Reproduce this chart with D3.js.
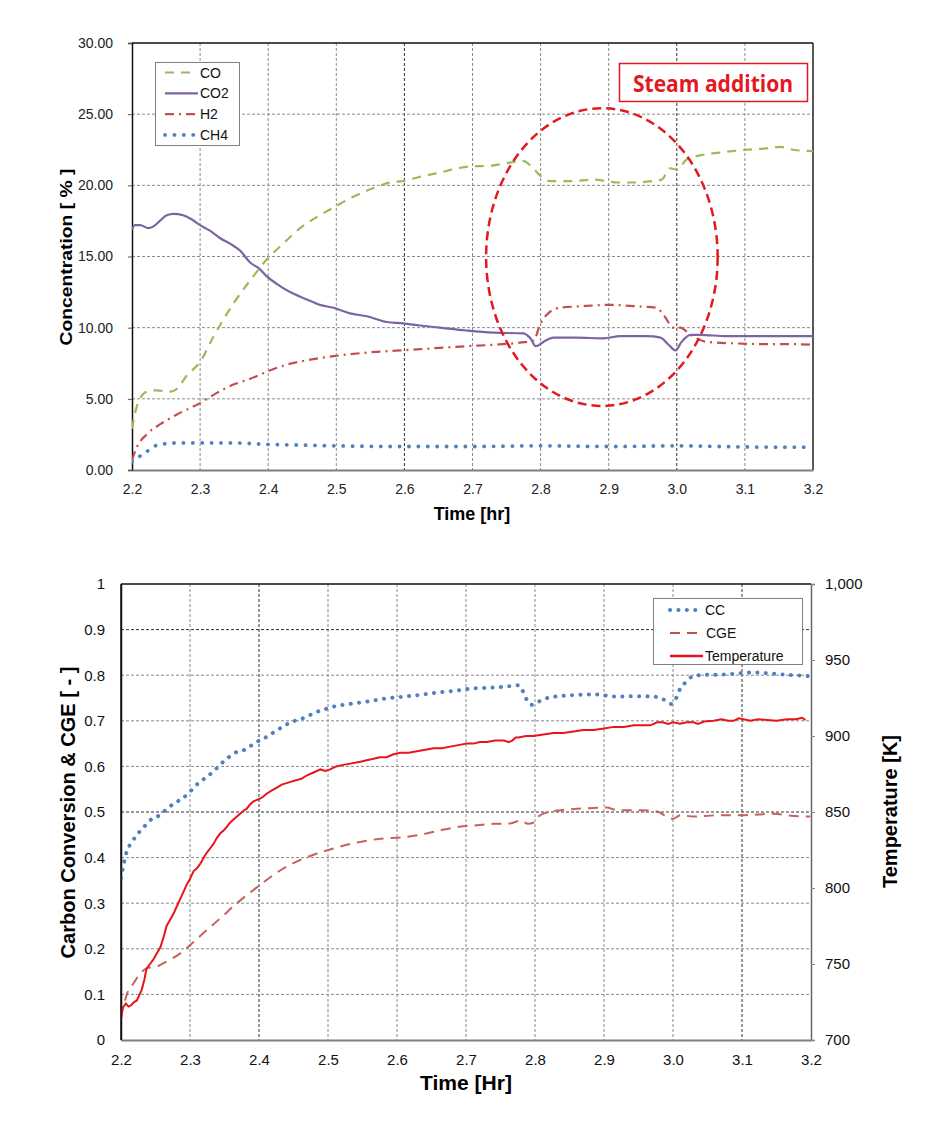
<!DOCTYPE html>
<html><head><meta charset="utf-8">
<script src="https://cdn.jsdelivr.net/npm/d3@7/dist/d3.min.js"></script>
<style>
html,body{margin:0;padding:0;background:#fff;}
svg{display:block;font-family:"Liberation Sans",Arial,sans-serif;}
</style></head>
<body>
<svg id="chart" width="925" height="1131"></svg>
<script>
// ---------- Top chart data ----------
const topXTicks = [2.2,2.3,2.4,2.5,2.6,2.7,2.8,2.9,3.0,3.1,3.2];
const topXTickLabels = ["2.2","2.3","2.4","2.5","2.6","2.7","2.8","2.9","3.0","3.1","3.2"];
const topYTicks = [0,5,10,15,20,25,30];
const topYTickLabels = ["0.00","5.00","10.00","15.00","20.00","25.00","30.00"];

const coT = [2.2,2.207,2.2215,2.236,2.256,2.266,2.28,2.3,2.32,2.349,2.378,2.398,2.422,2.447,2.476,2.498,2.525,2.554,2.579,2.598,2.623,2.652,2.691,2.731,2.755,2.775,2.787,2.799,2.814,2.843,2.878,2.897,2.912,2.941,2.965,2.978,2.99,3.0,3.014,3.034,3.063,3.103,3.132,3.152,3.171,3.2];
const coV = [2.9,4.45,5.5,5.6,5.5,5.7,6.6,7.6,9.4,11.7,13.6,14.8,15.9,17.0,17.9,18.5,19.2,19.8,20.2,20.3,20.6,20.9,21.3,21.4,21.6,21.7,21.3,20.7,20.3,20.3,20.4,20.3,20.2,20.2,20.3,20.4,21.2,21.1,21.8,22.1,22.3,22.5,22.6,22.7,22.5,22.4];

const co2T = [2.2,2.204,2.212,2.224,2.231,2.241,2.251,2.261,2.275,2.288,2.3,2.315,2.329,2.344,2.359,2.373,2.388,2.398,2.412,2.432,2.456,2.476,2.496,2.52,2.545,2.574,2.598,2.623,2.652,2.691,2.731,2.775,2.785,2.793,2.804,2.819,2.853,2.892,2.917,2.956,2.976,2.988,2.998,3.007,3.02,3.034,3.073,3.122,3.171,3.2];
const co2V = [16.9,17.2,17.2,17.0,17.1,17.5,17.9,18.0,17.9,17.6,17.2,16.8,16.3,15.9,15.4,14.6,14.1,13.6,13.1,12.5,12.0,11.6,11.4,11.0,10.8,10.4,10.3,10.15,10.0,9.8,9.65,9.6,9.25,8.7,9.0,9.3,9.3,9.25,9.4,9.4,9.3,8.8,8.4,9.0,9.5,9.5,9.4,9.4,9.4,9.4];

const h2T = [2.2,2.207,2.2215,2.241,2.266,2.3,2.324,2.349,2.373,2.398,2.427,2.456,2.496,2.545,2.594,2.642,2.691,2.731,2.77,2.79,2.799,2.809,2.828,2.858,2.902,2.941,2.97,2.982,2.995,3.005,3.02,3.044,3.083,3.122,3.161,3.2];
const h2V = [0.7,1.6,2.5,3.2,3.9,4.7,5.4,6.0,6.4,6.9,7.4,7.7,8.0,8.25,8.4,8.55,8.7,8.8,8.95,9.1,10.2,10.9,11.4,11.5,11.6,11.5,11.4,10.8,10.0,10.0,9.5,9.0,8.9,8.85,8.85,8.8];

const ch4T = [2.2,2.214,2.225,2.237,2.266,2.305,2.349,2.398,2.447,2.496,2.594,2.691,2.8,2.9,3.0,3.1,3.2];
const ch4V = [0.6,1.05,1.4,1.75,1.9,1.9,1.9,1.8,1.75,1.7,1.65,1.65,1.7,1.65,1.7,1.62,1.6];

const topSeriesNames = ["CO","CO2","H2","CH4"];
const steamLabel = "Steam addition";
const steamEllipse = [2.89, 14.96, 0.17, 10.46]; // centre time, centre %, half-width hr, half-height %

// ---------- Bottom chart data ----------
const botXTicks = [2.2,2.3,2.4,2.5,2.6,2.7,2.8,2.9,3.0,3.1,3.2];
const botXTickLabels = ["2.2","2.3","2.4","2.5","2.6","2.7","2.8","2.9","3.0","3.1","3.2"];
const botYTicks = [0,0.1,0.2,0.3,0.4,0.5,0.6,0.7,0.8,0.9,1];
const botYTickLabels = ["0","0.1","0.2","0.3","0.4","0.5","0.6","0.7","0.8","0.9","1"];
const botY2Ticks = [700,750,800,850,900,950,1000];
const botY2TickLabels = ["700","750","800","850","900","950","1,000"];

const ccT = [2.2,2.204,2.207,2.218,2.227,2.235,2.244,2.256,2.266,2.276,2.287,2.298,2.307,2.317,2.327,2.336,2.346,2.356,2.368,2.38,2.39,2.402,2.414,2.424,2.435,2.446,2.457,2.469,2.481,2.493,2.505,2.532,2.556,2.58,2.609,2.634,2.658,2.684,2.711,2.74,2.764,2.776,2.782,2.787,2.795,2.808,2.82,2.837,2.861,2.885,2.899,2.919,2.948,2.972,2.986,2.997,3.005,3.01,3.018,3.028,3.04,3.078,3.117,3.141,3.165,3.199];
const ccV = [0.355,0.387,0.406,0.439,0.457,0.47,0.484,0.493,0.506,0.518,0.528,0.541,0.556,0.569,0.58,0.592,0.607,0.62,0.632,0.637,0.647,0.658,0.667,0.678,0.687,0.697,0.702,0.709,0.718,0.724,0.73,0.737,0.742,0.748,0.753,0.757,0.762,0.766,0.771,0.773,0.776,0.778,0.766,0.749,0.735,0.744,0.751,0.754,0.757,0.758,0.756,0.753,0.754,0.753,0.747,0.737,0.751,0.769,0.784,0.797,0.8,0.802,0.806,0.804,0.801,0.798];

const cgeT = [2.2,2.209,2.218,2.228,2.237,2.252,2.266,2.286,2.3,2.319,2.344,2.368,2.392,2.411,2.435,2.46,2.484,2.508,2.532,2.556,2.58,2.605,2.634,2.663,2.692,2.716,2.74,2.764,2.779,2.79,2.798,2.805,2.817,2.837,2.861,2.885,2.904,2.919,2.953,2.977,2.991,3.0,3.011,3.03,3.068,3.102,3.146,3.175,3.199];
const cgeV = [0.05,0.102,0.124,0.146,0.157,0.161,0.172,0.19,0.208,0.234,0.267,0.3,0.329,0.351,0.376,0.395,0.409,0.42,0.43,0.437,0.442,0.444,0.45,0.46,0.468,0.471,0.474,0.475,0.481,0.474,0.477,0.49,0.499,0.504,0.507,0.509,0.51,0.504,0.504,0.501,0.49,0.485,0.493,0.49,0.493,0.493,0.496,0.491,0.49];

const tempT = [2.2,2.202,2.207,2.211,2.215,2.219,2.223,2.226,2.23,2.234,2.237,2.242,2.247,2.252,2.257,2.262,2.266,2.271,2.276,2.281,2.286,2.291,2.295,2.3,2.305,2.31,2.315,2.32,2.324,2.329,2.334,2.339,2.344,2.349,2.353,2.358,2.363,2.368,2.373,2.378,2.382,2.387,2.392,2.397,2.402,2.406,2.411,2.418,2.426,2.433,2.44,2.447,2.455,2.462,2.469,2.479,2.489,2.496,2.503,2.512,2.522,2.534,2.547,2.556,2.566,2.575,2.585,2.595,2.605,2.617,2.629,2.641,2.653,2.665,2.677,2.689,2.701,2.711,2.72,2.73,2.742,2.755,2.762,2.767,2.772,2.776,2.787,2.798,2.812,2.827,2.841,2.856,2.87,2.885,2.9,2.914,2.929,2.943,2.955,2.967,2.972,2.977,2.985,2.993,3.0,3.01,3.02,3.03,3.036,3.045,3.059,3.07,3.08,3.088,3.095,3.102,3.112,3.124,3.136,3.15,3.165,3.178,3.187,3.192,3.199];
const tempV = [713,721,724,722,723,725,726,729,733,740,747,750,753,757,761,768,775,779,783,788,793,798,802,806,811,813,816,820,823,826,829,833,836,838,840,843,845,847,849,851,852,855,857,858,859,860,862,864,866,868,869,870,871,872,874,876,878,877,878,880,881,882,883,884,885,886,886,888,889,889,890,891,892,892,893,894,895,895,896,896,897,897,896,897,899,899,900,900,901,902,902,903,904,904,905,906,906,907,907,907,908,909,909,908,909,908,909,909,908,909.5,910,911,910,910,911.6,911,910,911,910.5,910,911,911,912,910.5];

const botSeriesNames = ["CC","CGE","Temperature"];

// ---------- colours ----------
const C_CO = "#9bbb59", C_CO2 = "#7b64a0", C_H2 = "#c0504d", C_CH4 = "#4f81bd";
const C_CC = "#4f81bd", C_CGE = "#c0504d", C_TEMP = "#e8141c", C_STEAM = "#e3191f";

const svg = d3.select("#chart");

function zip(t, v){ return t.map((x,i)=>[x, v[i]]); }

function drawFrame(g, x, y, L, R, T, B, xTicks, yTicks, darkX, darkY){
  g.append("g").selectAll("line.vx").data(xTicks.slice(1, -1)).join("line")
    .attr("x1", d=>x(d)).attr("x2", d=>x(d)).attr("y1", T).attr("y2", B)
    .attr("stroke", d=>darkX.includes(d)?"#333":"#8a8a8a").attr("stroke-width",1)
    .attr("stroke-dasharray","3,2");
  g.append("g").selectAll("line.hy").data(yTicks.slice(1, -1)).join("line")
    .attr("x1", L).attr("x2", R).attr("y1", d=>y(d)).attr("y2", d=>y(d))
    .attr("stroke", d=>darkY.includes(d)?"#333":"#8a8a8a").attr("stroke-width",1)
    .attr("stroke-dasharray","3,2");
}

// ================= TOP CHART =================
{
  const L=132, R=813, T=43, B=470;
  const x = d3.scaleLinear().domain([2.2,3.2]).range([L,R]);
  const y = d3.scaleLinear().domain([0,30]).range([B,T]);
  const g = svg.append("g");
  drawFrame(g, x, y, L, R, T, B, topXTicks, topYTicks, [2.6,3.0], []);

  g.append("line").attr("x1",L).attr("x2",R).attr("y1",T).attr("y2",T).attr("stroke","#111").attr("stroke-width",1.5);
  g.append("line").attr("x1",R).attr("x2",R).attr("y1",T).attr("y2",B).attr("stroke","#222").attr("stroke-width",1.5);

  const yAxis = d3.axisLeft(y).tickValues(topYTicks).tickFormat((d,i)=>topYTickLabels[i]).tickSize(4).tickPadding(15);
  const ya = g.append("g").attr("transform",`translate(${L},0)`).call(yAxis);
  ya.select(".domain").attr("stroke","#111").attr("stroke-width",1.5);
  ya.selectAll(".tick line").attr("stroke","#555");
  ya.selectAll("text").attr("font-size",14).attr("fill","#222").attr("font-family","Liberation Sans, Arial");

  const xAxis = d3.axisBottom(x).tickValues(topXTicks).tickFormat((d,i)=>topXTickLabels[i]).tickSize(0).tickPadding(14);
  const xa = g.append("g").attr("transform",`translate(0,${B})`).call(xAxis);
  xa.select(".domain").attr("stroke","#7f7f7f").attr("stroke-width",2.2);
  xa.selectAll("text").attr("font-size",14).attr("fill","#222").attr("font-family","Liberation Sans, Arial");

  g.append("text").attr("x",472).attr("y",520).attr("text-anchor","middle")
    .attr("font-size",18).attr("font-weight","bold").attr("fill","#000").text("Time [hr]");
  g.append("text").attr("transform","translate(72,257) rotate(-90)").attr("text-anchor","middle")
    .attr("font-size",16).attr("font-weight","bold").attr("fill","#000")
    .attr("textLength",177).attr("lengthAdjust","spacingAndGlyphs").text("Concentration [ % ]");

  const line = d3.line().x(d=>x(d[0])).y(d=>y(d[1])).curve(d3.curveMonotoneX);
  g.append("clipPath").attr("id","clipTop").append("rect").attr("x",L).attr("y",T).attr("width",R-L).attr("height",B-T);
  const pg = g.append("g").attr("clip-path","url(#clipTop)");

  pg.append("path").attr("d", line(zip(h2T,h2V))).attr("fill","none").attr("stroke",C_H2)
    .attr("stroke-width",2.2).attr("stroke-dasharray","9,5,2,5");
  pg.append("path").attr("d", line(zip(coT,coV))).attr("fill","none").attr("stroke",C_CO)
    .attr("stroke-width",2.2).attr("stroke-dasharray","9,7");
  pg.append("path").attr("d", line(zip(co2T,co2V))).attr("fill","none").attr("stroke",C_CO2)
    .attr("stroke-width",2.2);
  pg.append("path").attr("d", line(zip(ch4T,ch4V))).attr("fill","none").attr("stroke",C_CH4)
    .attr("stroke-width",3.8).attr("stroke-linecap","round").attr("stroke-dasharray","0.1,9.3");

  const [ecx, ecy, erx, ery] = steamEllipse;
  g.append("ellipse").attr("cx", x(ecx)).attr("cy", y(ecy))
    .attr("rx", x(2.2+erx)-x(2.2)).attr("ry", y(0)-y(ery))
    .attr("fill","none").attr("stroke",C_STEAM).attr("stroke-width",2.5).attr("stroke-dasharray","9,5");

  g.append("rect").attr("x",619.5).attr("y",63.5).attr("width",188).attr("height",38)
    .attr("fill","#fff").attr("stroke",C_STEAM).attr("stroke-width",1.5);
  g.append("text").attr("x",633).attr("y",92).attr("font-size",24).attr("font-weight","bold")
    .attr("font-family","Open Sans, Noto Sans, sans-serif").attr("fill",C_STEAM)
    .attr("textLength",160).attr("lengthAdjust","spacingAndGlyphs").text(steamLabel);

  const lg = g.append("g");
  lg.append("rect").attr("x",155.5).attr("y",62.5).attr("width",84).attr("height",83)
    .attr("fill","#fff").attr("stroke","#7f7f7f").attr("stroke-width",1);
  const legendStyles = [
    {c:C_CO, w:2.2, da:"9,7", cap:"butt", x1:165, x2:191},
    {c:C_CO2, w:2.2, da:null, cap:"butt", x1:165, x2:198},
    {c:C_H2, w:2.2, da:"9,5,2,5", cap:"butt", x1:165, x2:198},
    {c:C_CH4, w:3.8, da:"0.1,9.3", cap:"round", x1:165, x2:195}
  ];
  topSeriesNames.forEach((name,i)=>{
    const yb = 77.5 + i*20.8;
    const s = legendStyles[i];
    const ln = lg.append("line").attr("x1",s.x1).attr("x2",s.x2).attr("y1",yb-5).attr("y2",yb-5)
      .attr("stroke",s.c).attr("stroke-width",s.w).attr("stroke-linecap",s.cap);
    if (s.da) ln.attr("stroke-dasharray", s.da);
    lg.append("text").attr("x",200).attr("y",yb).attr("font-size",14).attr("fill","#111").text(name);
  });
}

// ================= BOTTOM CHART =================
{
  const L=121, R=811, T=584, B=1040;
  const x = d3.scaleLinear().domain([2.2,3.2]).range([L,R]);
  const y = d3.scaleLinear().domain([0,1]).range([B,T]);
  const y2 = d3.scaleLinear().domain([700,1000]).range([B,T]);
  const g = svg.append("g");
  drawFrame(g, x, y, L, R, T, B, botXTicks, botYTicks, [2.4,3.1], [0.9,0.5]);

  g.append("line").attr("x1",L).attr("x2",R).attr("y1",T).attr("y2",T).attr("stroke","#111").attr("stroke-width",1.5);

  const yAxis = d3.axisLeft(y).tickValues(botYTicks).tickFormat((d,i)=>botYTickLabels[i]).tickSize(0).tickPadding(16);
  const ya = g.append("g").attr("transform",`translate(${L},0)`).call(yAxis);
  ya.select(".domain").attr("stroke","#111").attr("stroke-width",1.5);
  ya.selectAll("text").attr("font-size",15).attr("fill","#111").attr("font-family","Liberation Sans, Arial");

  const y2Axis = d3.axisRight(y2).tickValues(botY2Ticks).tickFormat((d,i)=>botY2TickLabels[i]).tickSize(4).tickPadding(10);
  const y2a = g.append("g").attr("transform",`translate(${R},0)`).call(y2Axis);
  y2a.select(".domain").attr("stroke","#666").attr("stroke-width",1.5);
  y2a.selectAll(".tick line").attr("stroke","#888");
  y2a.selectAll("text").attr("font-size",15).attr("fill","#111").attr("font-family","Liberation Sans, Arial");

  const xAxis = d3.axisBottom(x).tickValues(botXTicks).tickFormat((d,i)=>botXTickLabels[i]).tickSize(0).tickPadding(14);
  const xa = g.append("g").attr("transform",`translate(0,${B})`).call(xAxis);
  xa.select(".domain").attr("stroke","#7f7f7f").attr("stroke-width",2.2);
  xa.selectAll("text").attr("font-size",15).attr("fill","#111").attr("font-family","Liberation Sans, Arial");

  g.append("text").attr("x",466).attr("y",1090).attr("text-anchor","middle")
    .attr("font-size",20).attr("font-weight","bold").attr("fill","#000")
    .attr("textLength",92).attr("lengthAdjust","spacingAndGlyphs").text("Time [Hr]");
  g.append("text").attr("transform","translate(75,812.5) rotate(-90)").attr("text-anchor","middle")
    .attr("font-size",20).attr("font-weight","bold").attr("fill","#000")
    .attr("textLength",292).attr("lengthAdjust","spacingAndGlyphs").text("Carbon Conversion & CGE [ - ]");
  g.append("text").attr("transform","translate(897,811.5) rotate(-90)").attr("text-anchor","middle")
    .attr("font-size",20).attr("font-weight","bold").attr("fill","#000")
    .attr("textLength",153).attr("lengthAdjust","spacingAndGlyphs").text("Temperature [K]");

  g.append("clipPath").attr("id","clipBot").append("rect").attr("x",L).attr("y",T).attr("width",R-L).attr("height",B-T);
  const pg = g.append("g").attr("clip-path","url(#clipBot)");
  const lineL = d3.line().x(d=>x(d[0])).y(d=>y(d[1])).curve(d3.curveMonotoneX);
  const lineT = d3.line().x(d=>x(d[0])).y(d=>y2(d[1]));

  pg.append("path").attr("d", lineL(zip(cgeT,cgeV))).attr("fill","none").attr("stroke",C_CGE)
    .attr("stroke-width",2).attr("stroke-dasharray","10,7").attr("opacity",0.9);
  pg.append("path").attr("d", lineT(zip(tempT,tempV))).attr("fill","none").attr("stroke",C_TEMP)
    .attr("stroke-width",2);
  pg.append("path").attr("d", lineL(zip(ccT,ccV))).attr("fill","none").attr("stroke",C_CC)
    .attr("stroke-width",4).attr("stroke-linecap","round").attr("stroke-dasharray","0.1,8.3");

  g.append("line").attr("x1",L).attr("x2",L).attr("y1",T).attr("y2",B).attr("stroke","#111").attr("stroke-width",1.5);

  const lg = g.append("g");
  lg.append("rect").attr("x",653.5).attr("y",598.5).attr("width",149).attr("height",66)
    .attr("fill","#fff").attr("stroke","#7f7f7f").attr("stroke-width",1);
  const ls = [
    {c:C_CC, w:4, da:"0.1,8.3", cap:"round", x1:670, x2:702},
    {c:C_CGE, w:2, da:"10,7", cap:"butt", x1:670, x2:697},
    {c:C_TEMP, w:2.5, da:null, cap:"butt", x1:670, x2:703}
  ];
  botSeriesNames.forEach((name,i)=>{
    const yb = 615 + i*23;
    const s = ls[i];
    const ln = lg.append("line").attr("x1",s.x1).attr("x2",s.x2).attr("y1",yb-5).attr("y2",yb-5)
      .attr("stroke",s.c).attr("stroke-width",s.w).attr("stroke-linecap",s.cap);
    if (s.da) ln.attr("stroke-dasharray", s.da);
    lg.append("text").attr("x", i===1?706:705).attr("y",yb).attr("font-size",14).attr("fill","#111").text(name);
  });
}
</script>
</body></html>
